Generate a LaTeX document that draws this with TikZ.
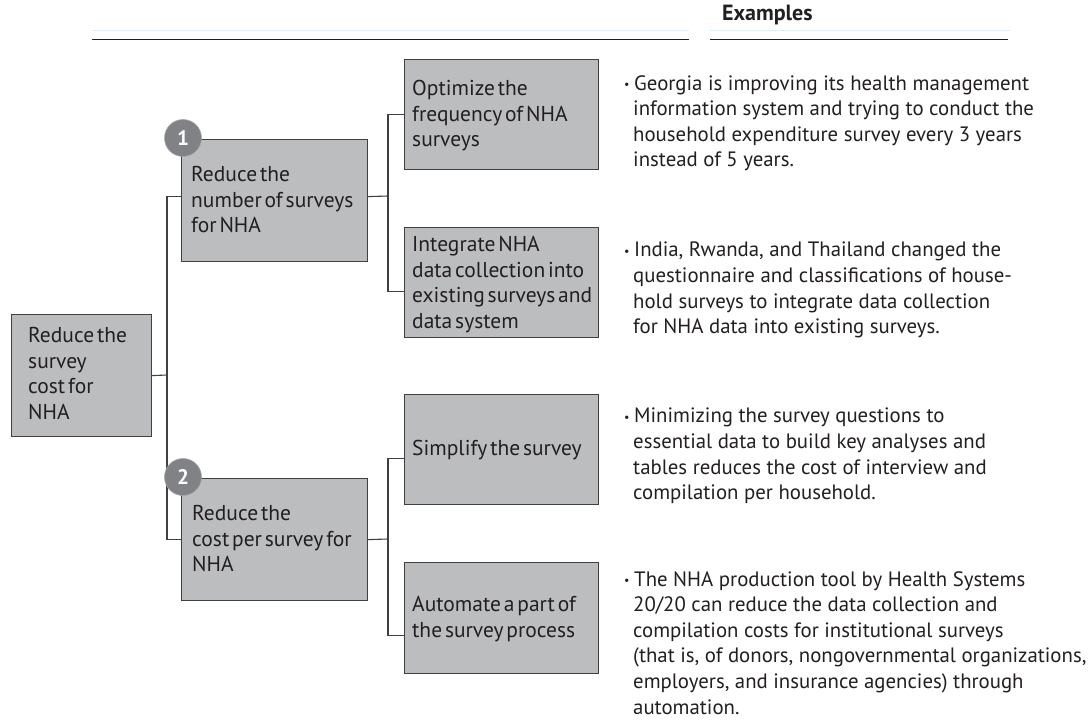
\documentclass[tikz,border=0pt]{standalone}
\usepackage{fontspec}
\setmainfont{PT Sans}
\newfontfamily\boxfont[WordSpace=0.5]{PT Sans}
\definecolor{boxfill}{HTML}{BBBDBF}
\definecolor{ink}{HTML}{231F20}
\definecolor{edge}{HTML}{404041}
\definecolor{badge}{HTML}{808285}
\definecolor{faint}{HTML}{E4F0F8}
\newcommand{\blt}{\makebox[10pt][l]{\fontsize{12}{12}\selectfont\raisebox{1.5pt}{•}}}
\newcommand{\ind}{\hspace{9pt}}
\tikzset{
  x=1pt,y=-1pt,
  boxn/.style={draw=edge,fill=boxfill,line width=1.2pt,inner sep=0pt,anchor=north west},
  lbl/.style={anchor=north west,align=left,inner sep=0pt,text=ink,font=\boxfont\fontsize{21.5}{25.6}\selectfont},
  note/.style={anchor=north west,align=left,inner sep=0pt,text=ink,font=\fontsize{20.8}{25.6}\selectfont},
  conn/.style={draw=edge,line width=1.1pt},
  rule/.style={draw=ink,line width=1.1pt},
  fine/.style={draw=faint,line width=0.8pt},
  badgen/.style={circle,fill=badge,draw=badge!70!white,line width=0.6pt,minimum size=37pt,inner sep=0pt,text=white,font=\fontsize{21}{21}\selectfont\bfseries},
}
\begin{document}
\begin{tikzpicture}
\useasboundingbox[fill=white] (0,0) rectangle (1091,722);
\node[boxn,minimum width=140pt,minimum height=122pt] (root) at (11,314) {};
\node[boxn,minimum width=186pt,minimum height=122pt] (b1) at (181,139) {};
\node[boxn,minimum width=186pt,minimum height=122pt] (b2) at (181,478) {};
\node[boxn,minimum width=194pt,minimum height=110pt] (c1) at (404,59) {};
\node[boxn,minimum width=194pt,minimum height=110pt] (c2) at (404,227) {};
\node[boxn,minimum width=194pt,minimum height=110pt] (c3) at (404,394) {};
\node[boxn,minimum width=194pt,minimum height=111pt] (c4) at (404,562) {};
\coordinate (j0) at (167,375);
\coordinate (j1) at (388,196);
\coordinate (j2) at (388,539);
\draw[conn] (root.east) -- (j0);
\draw[conn] ([yshift=4pt]b1.west) -| (j0);
\draw[conn] (b2.west) -| (j0);
\draw[conn] ([yshift=4pt]b1.east) -- (j1);
\draw[conn] (c1.west) -| (j1);
\draw[conn] ([yshift=-9pt]c2.west) -| (j1);
\draw[conn] (b2.east) -- (j2);
\draw[conn] ([yshift=-9pt]c3.west) -| (j2);
\draw[conn] ([yshift=-17.5pt]c4.west) -| (j2);
\node[badgen] (n1) at (183,138) {1};
\node[badgen] (n2) at (183,477) {2};
\node[lbl] (t0) at (28,327) {Reduce the\\survey\\cost for\\NHA};
\node[lbl] (t1) at (191,166) {Reduce the\\number of surveys\\for NHA};
\node[lbl] (t2) at (192,505) {Reduce the\\cost per survey for\\NHA};
\node[lbl] (t3) at (412,80) {Optimize the\\frequency of NHA\\surveys};
\node[lbl] (t4) at (412,236) {Integrate NHA\\data collection into\\existing surveys and\\data system};
\node[lbl] (t5) at (412,440) {Simplify the survey};
\node[lbl] (t6) at (412,596) {Automate a part of\\the survey process};
\node[note,font=\fontsize{22}{25.6}\selectfont\bfseries] (ex) at (722,5) {Examples};
\node[note] (e1) at (624,75) {\blt Georgia is improving its health management\\\ind information system and trying to conduct the\\\ind household expenditure survey every 3 years\\\ind instead of 5 years.};
\node[note] (e2) at (624,242) {\blt India, Rwanda, and Thailand changed the\\\ind questionnaire and classifications of house-\\\ind hold surveys to integrate data collection\\\ind for NHA data into existing surveys.};
\node[note] (e3) at (624,408) {\blt Minimizing the survey questions to\\\ind essential data to build key analyses and\\\ind tables reduces the cost of interview and\\\ind compilation per household.};
\node[note] (e4) at (624,571) {\blt The NHA production tool by Health Systems\\\ind 20/20 can reduce the data collection and\\\ind compilation costs for institutional surveys\\\ind (that is, of donors, nongovernmental organizations,\\\ind employers, and insurance agencies) through\\\ind automation.};
\coordinate (ra) at (92,39.5);
\coordinate (rb) at (689,39.5);
\coordinate (rc) at (710,39.5);
\coordinate (rd) at (1008,39.5);
\coordinate (fa) at (92,30.5);
\coordinate (fb) at (689,30.5);
\coordinate (fc) at (710,30.5);
\coordinate (fd) at (1010,30.5);
\draw[fine] (fa) -- (fb);
\draw[fine] (fc) -- (fd);
\draw[rule] (ra) -- (rb);
\draw[rule] (rc) -- (rd);
\end{tikzpicture}
\end{document}
